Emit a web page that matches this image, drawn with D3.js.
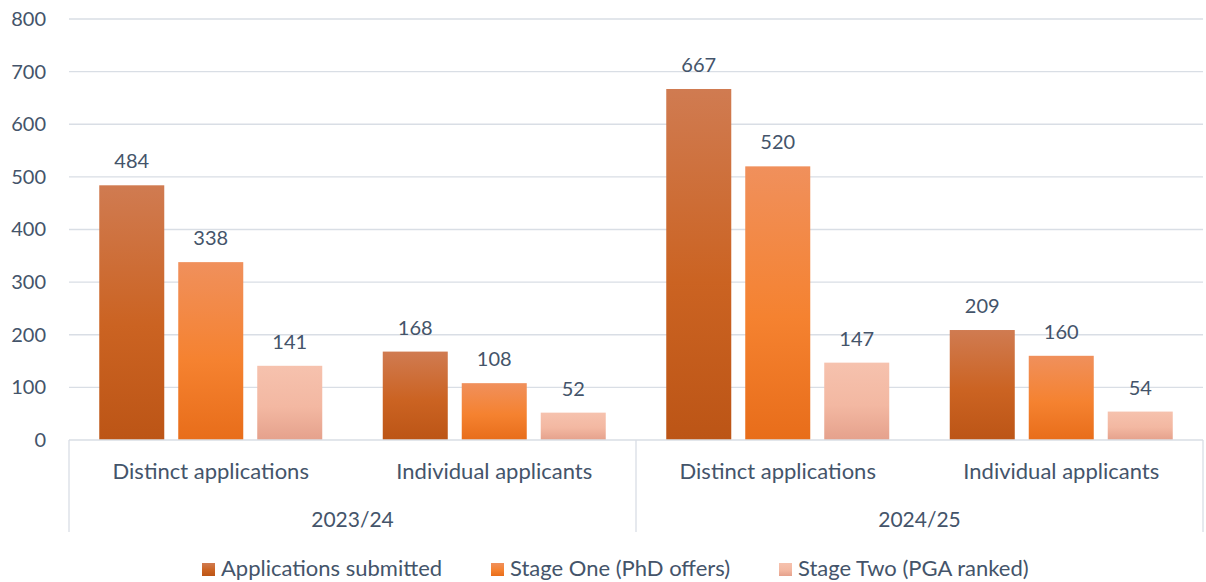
<!DOCTYPE html>
<html><head><meta charset="utf-8">
<script src="https://cdn.jsdelivr.net/npm/d3@7"></script>
<style>body{margin:0;background:#fff;} text{font-family:Lato, "Noto Sans", sans-serif;}</style>
</head><body><svg id="c" width="1206" height="582"></svg>
<script>
const years = ["2023/24", "2024/25"];
const categories = ["Distinct applications", "Individual applicants"];
const seriesNames = ["Applications submitted", "Stage One (PhD offers)", "Stage Two (PGA ranked)"];
const appsSubmitted = [484, 168, 667, 209];
const stageOne = [338, 108, 520, 160];
const stageTwo = [141, 52, 147, 54];
const yTicks = [0, 100, 200, 300, 400, 500, 600, 700, 800];

const seriesValues = [appsSubmitted, stageOne, stageTwo];
const gradStops = [
  ["#d07b51", "#cb6322", "#bc5516"],
  ["#f0905c", "#f58230", "#e86d1a"],
  ["#f6c2ae", "#f3b8a2", "#e5a18c"]
];
const textColor = "#44546a";

const svg = d3.select("#c");
const plotLeft = 69, plotRight = 1203, plotTop = 19, plotBottom = 440;

const defs = svg.append("defs");
gradStops.forEach((s, i) => {
  const g = defs.append("linearGradient").attr("id", "g" + i).attr("x1", 0).attr("y1", 0).attr("x2", 0).attr("y2", 1);
  g.append("stop").attr("offset", "0%").attr("stop-color", s[0]);
  g.append("stop").attr("offset", "55%").attr("stop-color", s[1]);
  g.append("stop").attr("offset", "100%").attr("stop-color", s[2]);
});

const y = d3.scaleLinear().domain([0, 800]).range([plotBottom, plotTop]);
const leaves = [];
years.forEach(yr => categories.forEach(c => leaves.push(yr + "|" + c)));
const x0 = d3.scaleBand().domain(leaves).range([plotLeft, plotRight]).paddingInner(0).paddingOuter(0);
const x1 = d3.scaleBand().domain(seriesNames).range([0, x0.bandwidth()]).paddingInner(0.177).paddingOuter(0.383);

// gridlines
svg.append("g").selectAll("line").data(yTicks.filter(t => t > 0)).join("line")
  .attr("x1", plotLeft).attr("x2", plotRight).attr("y1", d => y(d)).attr("y2", d => y(d))
  .attr("stroke", "#d9dee5").attr("stroke-width", 1.3);

// y axis labels
const yAxis = d3.axisLeft(y).tickValues(yTicks).tickSize(0).tickPadding(23);
const ya = svg.append("g").attr("transform", `translate(${plotLeft},0)`).call(yAxis);
ya.select(".domain").remove();
ya.selectAll("text").attr("fill", textColor).style("font-size", "20px").style("font-family", "Lato, 'Noto Sans', sans-serif");

// bars
const groups = svg.append("g").selectAll("g").data(leaves).join("g")
  .attr("transform", d => `translate(${x0(d)},0)`);
groups.each(function(leaf, li) {
  const g = d3.select(this);
  seriesNames.forEach((s, si) => {
    const v = seriesValues[si][li];
    g.append("rect").attr("x", x1(s)).attr("width", x1.bandwidth())
      .attr("y", y(v)).attr("height", y(0) - y(v)).attr("fill", `url(#g${si})`);
    g.append("text").attr("x", x1(s) + x1.bandwidth() / 2).attr("y", y(v) - 17)
      .attr("text-anchor", "middle").attr("fill", textColor).style("font-size", "20px").text(v);
  });
});

// baseline
svg.append("line").attr("x1", plotLeft).attr("x2", plotRight).attr("y1", plotBottom).attr("y2", plotBottom)
  .attr("stroke", "#d9dee5").attr("stroke-width", 1.3);

// year separators
const yearX = d3.scaleBand().domain(years).range([plotLeft, plotRight]);
const seps = [plotLeft, ...years.map(yr => yearX(yr) + yearX.bandwidth())];
svg.append("g").selectAll("line").data(seps).join("line")
  .attr("x1", d => d).attr("x2", d => d).attr("y1", plotBottom).attr("y2", 532)
  .attr("stroke", "#d9dee5").attr("stroke-width", 1.3);

// category labels
svg.append("g").selectAll("text").data(leaves).join("text")
  .attr("x", d => x0(d) + x0.bandwidth() / 2).attr("y", 479)
  .attr("text-anchor", "middle").attr("fill", textColor).style("font-size", "22px")
  .text(d => d.split("|")[1]);
svg.append("g").selectAll("text").data(years).join("text")
  .attr("x", d => yearX(d) + yearX.bandwidth() / 2).attr("y", 527)
  .attr("text-anchor", "middle").attr("fill", textColor).style("font-size", "21px")
  .text(d => d);

// legend
const legendX = [202, 491, 779];
const lg = svg.append("g").selectAll("g").data(seriesNames).join("g")
  .attr("transform", (d, i) => `translate(${legendX[i]},563)`);
lg.append("rect").attr("width", 13).attr("height", 13).attr("fill", (d, i) => `url(#g${i})`);
lg.append("text").attr("x", 19).attr("y", 13).attr("fill", textColor).style("font-size", "22px").text(d => d);
</script></body></html>
